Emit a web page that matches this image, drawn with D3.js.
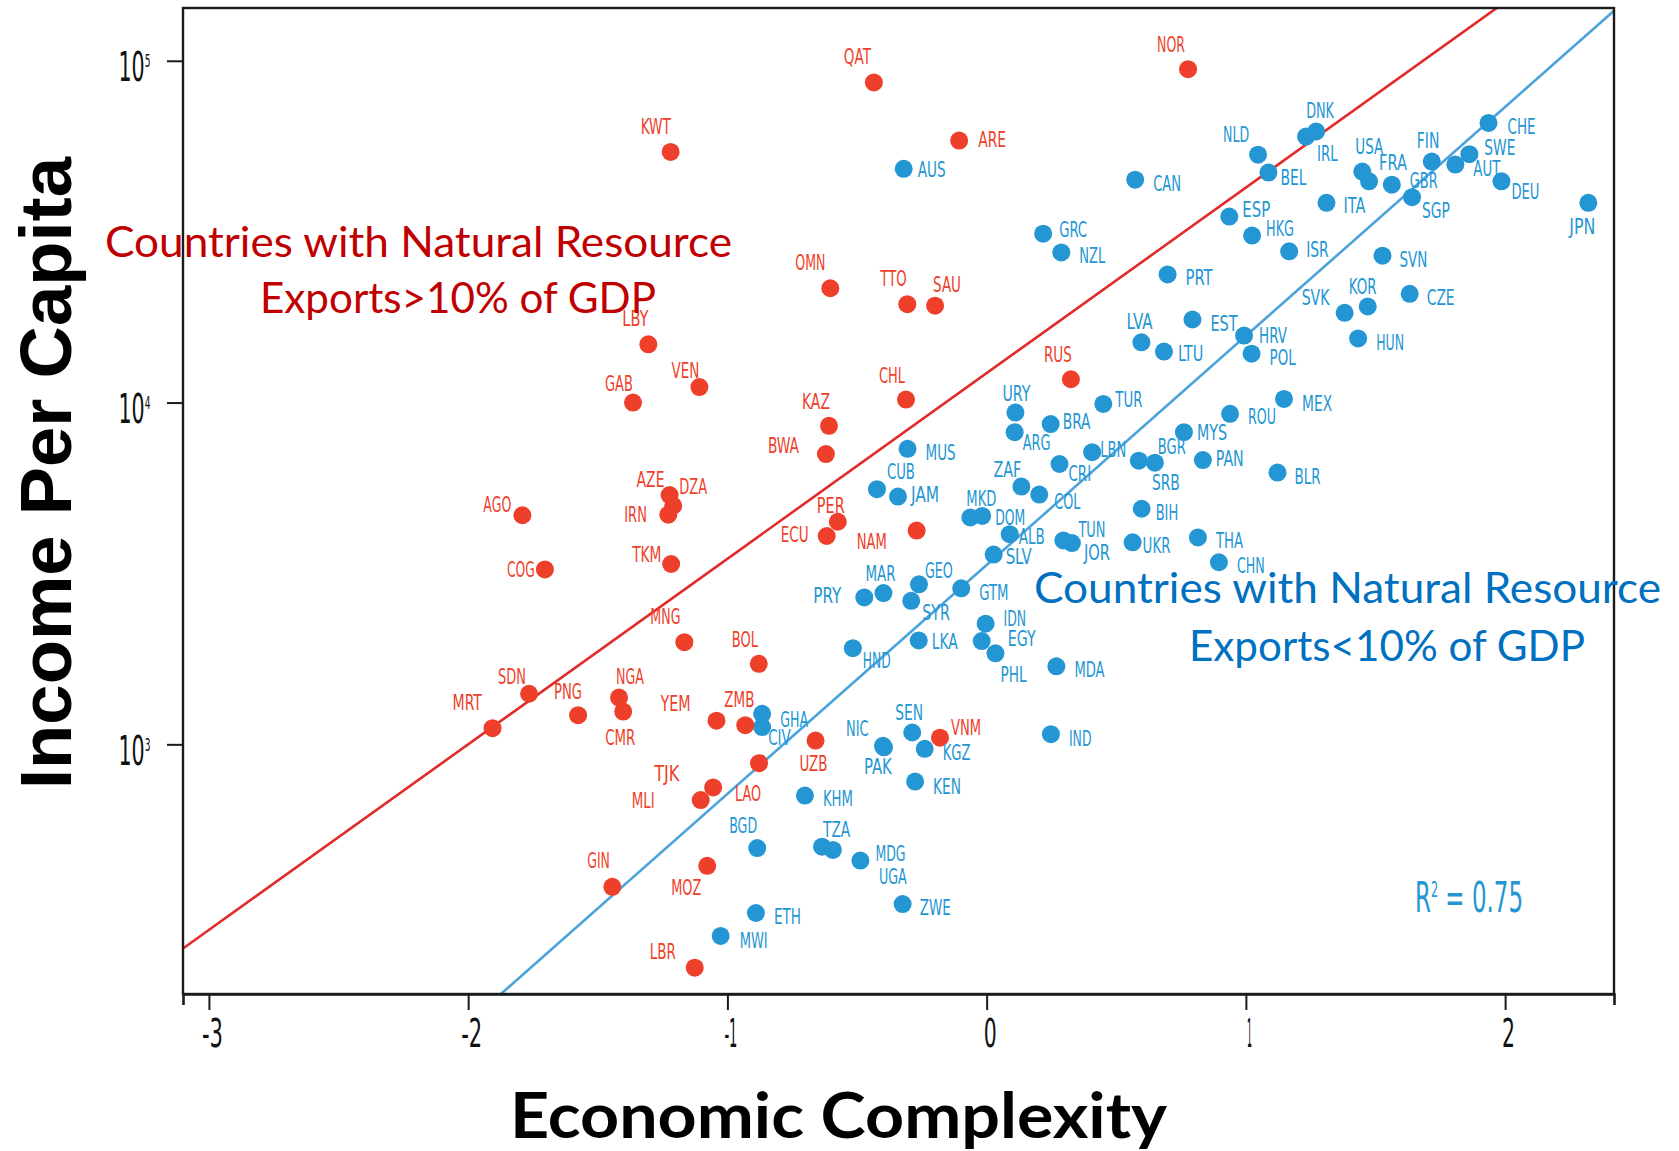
<!DOCTYPE html>
<html><head><meta charset="utf-8">
<script src="https://cdn.jsdelivr.net/npm/d3@7"></script>
<style>
html,body{margin:0;padding:0;background:#fff;}
svg{display:block;}
</style></head><body>
<svg id="chart" width="1679" height="1151"></svg>
<script>
// ---------------- DATA ----------------
// Countries with natural resource exports > 10% of GDP
const resourceCountries = ["QAT","NOR","KWT","ARE","OMN","TTO","SAU","LBY","VEN","GAB",
  "CHL","KAZ","BWA","RUS","AZE","DZA","IRN","AGO","TKM","COG",
  "PER","ECU","NAM","MNG","BOL","SDN","NGA","CMR","PNG","MRT",
  "YEM","ZMB","UZB","VNM","LAO","TJK","MLI","GIN","MOZ","LBR"];
const resourceComplexity = [-0.435,0.777,-1.219,-0.106,-0.603,-0.306,-0.199,-1.305,-1.108,-1.364,
  -0.311,-0.608,-0.620,0.325,-1.223,-1.209,-1.228,-1.791,-1.217,-1.704,
  -0.574,-0.617,-0.270,-1.166,-0.879,-1.765,-1.418,-1.402,-1.576,-1.906,
  -1.042,-0.931,-0.660,-0.180,-0.878,-1.055,-1.103,-1.444,-1.078,-1.126];
const resourceIncome = [86400,94500,54100,58400,21600,19400,19200,14800,11100,10000,
  10200,8550,7070,11700,5360,4990,4700,4680,3370,3250,
  4480,4070,4220,1990,1720,1406,1370,1247,1217,1115,
  1173,1138,1026,1046,881,748,687,383,441,222];

// Countries with natural resource exports < 10% of GDP
const otherCountries = ["DNK","IRL","NLD","BEL","CAN","AUS","USA","FRA","GBR","SGP",
  "FIN","CHE","SWE","AUT","DEU","JPN","ITA","ESP","HKG","ISR",
  "SVN","GRC","NZL","PRT","CZE","KOR","SVK","EST","HRV","HUN",
  "LVA","LTU","POL","TUR","MEX","ROU","MYS","BGR","SRB","PAN",
  "BLR","URY","ARG","BRA","MUS","LBN","CRI","ZAF","COL","CUB",
  "JAM","MKD","DOM","ALB","TUN","JOR","SLV","BIH","UKR","THA",
  "CHN","MAR","PRY","GEO","SYR","GTM","IDN","EGY","PHL","LKA",
  "HND","MDA","IND","GHA","CIV","NIC","PAK","SEN","KGZ","KEN",
  "KHM","BGD","TZA","UGA","MDG","ZWE","ETH","MWI"];
const otherComplexity = [1.271,1.232,1.047,1.087,0.573,-0.320,1.449,1.475,1.563,1.641,
  1.717,1.936,1.862,1.808,1.986,2.321,1.311,0.936,1.024,1.167,
  1.527,0.218,0.288,0.698,1.632,1.470,1.381,0.794,0.993,1.433,
  0.597,0.684,1.022,0.450,1.147,0.939,0.761,0.587,0.649,0.834,
  1.122,0.111,0.108,0.247,-0.305,0.407,0.281,0.134,0.203,-0.423,
  -0.342,-0.063,-0.017,0.089,0.296,0.329,0.027,0.598,0.563,0.815,
  0.896,-0.398,-0.472,-0.261,-0.291,-0.098,-0.004,-0.019,0.034,-0.262,
  -0.516,0.269,0.248,-0.866,-0.866,-0.400,-0.396,-0.287,-0.239,-0.276,
  -0.701,-0.885,-0.635,-0.593,-0.487,-0.324,-0.890,-1.026];
const otherIncome = [62100,60000,53100,47100,44900,48300,47400,44400,43400,39900,
  50700,65800,53300,49700,44400,38400,38400,35000,30800,27700,
  26900,31200,27500,23700,20800,19100,18300,17500,15700,15400,
  15000,14100,13900,9910,10250,9270,8190,6760,6670,6790,
  6240,9350,8190,8650,7320,7160,6610,5680,5380,5580,
  5310,4610,4660,4120,3950,3880,3590,4890,3900,4030,
  3410,2770,2690,2940,2630,2860,2254,2005,1846,2014,
  1912,1691,1071,1228,1123,990,980,1083,970,778,
  708,497,502,491,457,341,321,275];

// Fitted lines: log10(income) = intercept + slope * complexity
const fitResource = {intercept: 4.086, slope: 0.543};
const fitOther = {intercept: 3.525, slope: 0.670};
const r2Text = "0.75";

const xTickValues = [-3, -2, -1, 0, 1, 2];
const yTickValues = [1000, 10000, 100000];
const yTickExponents = ["3", "4", "5"];

const xTitle = "Economic Complexity";
const yTitle = "Income Per Capita";
const noteResource = ["Countries with Natural Resource", "Exports>10% of GDP"];
const noteOther = ["Countries with Natural Resource", "Exports<10% of GDP"];

// ---------------- LAYOUT (label offsets in px: left edge / baseline relative to dot) ----------------
const labelOffset = {
  QAT:[-30,-18],NOR:[-31,-17],KWT:[-30,-18],ARE:[19,6],OMN:[-35,-18],TTO:[-27,-18],SAU:[-2,-14],
  LBY:[-26,-18],VEN:[-28,-9],GAB:[-28,-12],CHL:[-27,-17],KAZ:[-27,-17],BWA:[-58,-1],RUS:[-27,-17],
  AZE:[-33,-8],DZA:[6,-12],IRN:[-44,7],AGO:[-39,-3],TKM:[-39,-2],COG:[-38,8],PER:[-21,-9],ECU:[-46,6],
  NAM:[-60,18],MNG:[-34,-18],BOL:[-27,-17],SDN:[-31,-10],NGA:[-3,-14],CMR:[-18,33],PNG:[-24,-16],
  MRT:[-40,-18],YEM:[-56,-10],ZMB:[-21,-18],UZB:[-16,30],VNM:[11,-3],LAO:[-24,38],TJK:[-59,-6],
  MLI:[-69,8],GIN:[-25,-19],MOZ:[-36,29],LBR:[-45,-9],
  DNK:[-10,-13],IRL:[11,24],NLD:[-35,-13],BEL:[12,12],CAN:[18,11],AUS:[14,8],USA:[-7,-18],FRA:[10,-11],
  GBR:[18,3],SGP:[10,21],FIN:[-15,-14],CHE:[19,11],SWE:[15,1],AUT:[18,11],DEU:[10,18],JPN:[-19,31],
  ITA:[17,10],ESP:[13,0],HKG:[14,0],ISR:[17,6],SVN:[17,11],GRC:[16,3],NZL:[18,11],PRT:[18,11],
  CZE:[17,11],KOR:[-19,-13],SVK:[-43,-8],EST:[18,12],HRV:[15,7],HUN:[18,12],LVA:[-15,-13],LTU:[14,9],
  POL:[18,11],TUR:[12,3],MEX:[18,12],ROU:[18,10],MYS:[13,8],BGR:[19,-7],SRB:[-3,27],PAN:[13,6],
  BLR:[17,11],URY:[-13,-12],ARG:[8,18],BRA:[12,5],MUS:[18,11],LBN:[8,5],CRI:[9,17],ZAF:[-28,-10],
  COL:[15,14],CUB:[10,-10],JAM:[13,5],MKD:[-4,-11],DOM:[13,9],ALB:[9,10],TUN:[15,-3],JOR:[12,17],
  SLV:[12,9],BIH:[14,11],UKR:[10,11],THA:[18,11],CHN:[18,11],MAR:[-18,-12],PRY:[-51,6],GEO:[6,-6],
  SYR:[11,19],GTM:[18,12],IDN:[18,2],EGY:[26,5],PHL:[5,29],LKA:[13,9],HND:[10,20],MDA:[18,11],
  IND:[18,12],GHA:[18,13],CIV:[6,18],NIC:[-37,-10],PAK:[-20,27],SEN:[-17,-13],KGZ:[18,11],KEN:[18,12],
  KHM:[18,10],BGD:[-28,-15],TZA:[1,-10],UGA:[46,34],MDG:[15,0],ZWE:[17,11],ETH:[18,11],MWI:[19,12]
};

const RED = "#EE3F2B", BLUE = "#2396D3";
const RED_LINE = "#E12A2A", BLUE_LINE = "#4CA3DC";
const NARROW = "'Liberation Sans Narrow','Arial Narrow','DejaVu Sans Condensed','Roboto Condensed',sans-serif";

const plot = {left: 183, right: 1614, top: 8, bottom: 994};

const svg = d3.select("#chart");
svg.append("rect").attr("width",1679).attr("height",1151).attr("fill","#fff");

const x = d3.scaleLinear().domain([-3.1, 2.42]).range([plot.left, plot.right]);
const y = d3.scaleLog().domain([186, 142700]).range([plot.bottom, plot.top]);

function charW(c){ return ({I:4,M:11.5,W:12.5,L:7.5,J:7.5,T:8.5})[c] ?? 9.3; }
function labelWidth(s){ let w=0; for (const c of s) w += charW(c); return w; }
function tickW(s){ let w=0; for (const c of s) w += ({"-":8,"1":5})[c] ?? 13; return w; }

svg.append("clipPath").attr("id","plotclip").append("rect")
  .attr("x",plot.left).attr("y",plot.top).attr("width",plot.right-plot.left).attr("height",plot.bottom-plot.top);

// regression lines
const lineGen = d3.line();
function fitPoints(f){
  return x.domain().map(v => [x(v), y(Math.pow(10, f.intercept + f.slope*v))]);
}
const gLines = svg.append("g").attr("clip-path","url(#plotclip)");
gLines.append("path").attr("d", lineGen(fitPoints(fitResource)))
  .attr("stroke", RED_LINE).attr("stroke-width",2.6).attr("fill","none");
gLines.append("path").attr("d", lineGen(fitPoints(fitOther)))
  .attr("stroke", BLUE_LINE).attr("stroke-width",2.6).attr("fill","none");

// frame
svg.append("rect").attr("x",plot.left).attr("y",plot.top)
  .attr("width",plot.right-plot.left).attr("height",plot.bottom-plot.top)
  .attr("fill","none").attr("stroke","#1b1b1b").attr("stroke-width",2.4);

// axes
const gx = svg.append("g").attr("transform",`translate(0,${plot.bottom})`)
  .call(d3.axisBottom(x).tickValues(xTickValues).tickSize(16).tickSizeOuter(11).tickFormat(d => String(d)));
gx.select(".domain").attr("stroke","#1b1b1b").attr("stroke-width",2.6);
gx.selectAll(".tick line").attr("stroke","#1b1b1b").attr("stroke-width",2);
gx.selectAll(".tick text")
  .attr("y",53).attr("dy",0).attr("x",3)
  .attr("fill","#111").attr("font-family",NARROW).attr("font-size",39)
  .attr("textLength", d => tickW(String(d))).attr("lengthAdjust","spacingAndGlyphs");

const gy = svg.append("g").attr("transform",`translate(${plot.left},0)`)
  .call(d3.axisLeft(y).tickValues(yTickValues).tickSize(16).tickSizeOuter(0).tickFormat(""));
gy.select(".domain").remove();
gy.selectAll(".tick text").remove();
gy.selectAll(".tick line").attr("stroke","#1b1b1b").attr("stroke-width",2);
gy.selectAll(".tick").each(function(d,i){
  const t = d3.select(this).append("text").attr("x",-64.5).attr("y",20).attr("text-anchor","start")
    .attr("fill","#111").attr("font-family",NARROW).attr("font-size",41)
    .attr("textLength",32).attr("lengthAdjust","spacingAndGlyphs");
  t.append("tspan").text("10");
  t.append("tspan").attr("dy",-14).attr("font-size",18).text(yTickExponents[i]);
});

// points
const otherData = otherCountries.map((c,i)=>({code:c, x:otherComplexity[i], y:otherIncome[i]}));
const resData = resourceCountries.map((c,i)=>({code:c, x:resourceComplexity[i], y:resourceIncome[i]}));

function drawGroup(data, color){
  const g = svg.append("g");
  g.selectAll("circle").data(data).join("circle")
    .attr("cx", d=>x(d.x)).attr("cy", d=>y(d.y)).attr("r",9).attr("fill",color);
  return g;
}
drawGroup(otherData, BLUE);
drawGroup(resData, RED);

function drawLabels(data, color){
  svg.append("g").selectAll("text").data(data).join("text")
    .attr("x", d=>x(d.x) + (labelOffset[d.code]||[12,6])[0])
    .attr("y", d=>y(d.y) + (labelOffset[d.code]||[12,6])[1])
    .attr("fill", color).attr("font-family", NARROW).attr("font-size", 22)
    .attr("textLength", d=>labelWidth(d.code)).attr("lengthAdjust","spacingAndGlyphs")
    .text(d=>d.code);
}
drawLabels(otherData, BLUE);
drawLabels(resData, RED);

// annotations
const SANS = "Lato,'Open Sans','Noto Sans',sans-serif";
function note(lines, color, pos){
  lines.forEach((s,i)=>{
    svg.append("text").attr("x",pos[i][0]).attr("y",pos[i][1])
      .attr("fill",color).attr("font-family",SANS).attr("font-size",42)
      .attr("textLength",pos[i][2]).attr("lengthAdjust","spacingAndGlyphs").text(s);
  });
}
note(noteResource, "#C00000", [[105,257,627],[260,313,396]]);
note(noteOther, "#0070C0", [[1034,603,627],[1189,660.5,396]]);

// R^2
const tR = svg.append("text").attr("x",1415).attr("y",912).attr("fill","#2596D3")
  .attr("font-family",NARROW).attr("font-size",43)
  .attr("textLength",108).attr("lengthAdjust","spacingAndGlyphs");
tR.append("tspan").text("R");
tR.append("tspan").attr("dy",-15).attr("font-size",21).text("2");
tR.append("tspan").attr("dy",15).text(" = " + r2Text);

// axis titles
svg.append("text").attr("x",510).attr("y",1138)
  .attr("font-family",SANS).attr("font-weight",700).attr("font-size",63).attr("fill","#000")
  .attr("textLength",657).attr("lengthAdjust","spacingAndGlyphs").text(xTitle);
svg.append("text").attr("transform","translate(71,473) rotate(-90)").attr("text-anchor","middle")
  .attr("font-family","'Liberation Sans',Arial,sans-serif").attr("font-weight",700).attr("font-size",73).attr("fill","#000")
  .attr("textLength",632).attr("lengthAdjust","spacingAndGlyphs").text(yTitle);
</script>
</body></html>
